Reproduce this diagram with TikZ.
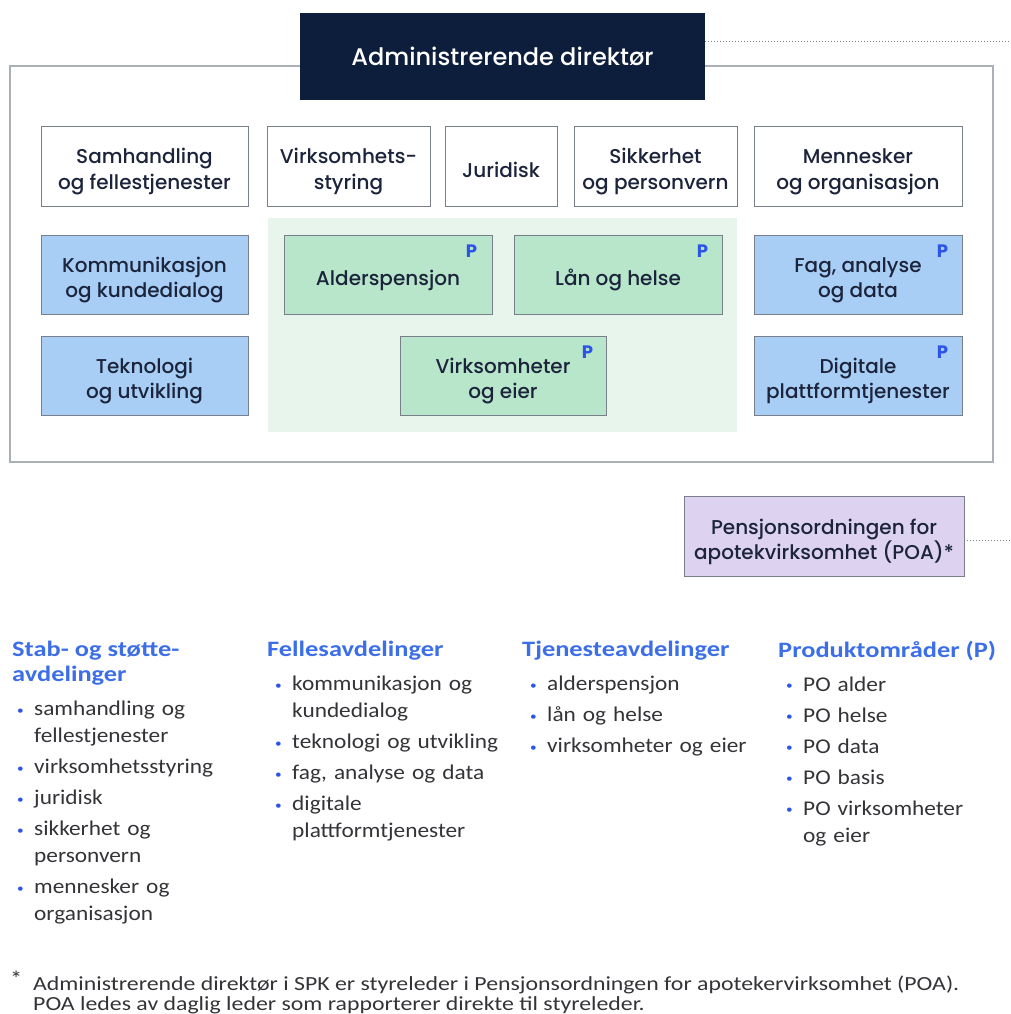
\documentclass[tikz,border=0pt]{standalone}
\usepackage{fontspec}
\usepackage{xcolor}
\newfontfamily\boxfont{Poppins Medium}
\newfontfamily\pfont{Poppins}
\newfontfamily\listfont{Carlito}[FakeStretch=1.11]
\newfontfamily\headfont{Carlito}[FakeStretch=1.2]
\newfontfamily\notefont{Carlito}[FakeStretch=1.19]
\usetikzlibrary{positioning,calc}

\definecolor{dirnavy}{RGB}{13,30,61}
\definecolor{boxtext}{RGB}{28,36,60}
\definecolor{boxline}{RGB}{120,126,138}
\definecolor{framegray}{RGB}{170,175,184}
\definecolor{fagblue}{RGB}{168,206,246}
\definecolor{tjgreen}{RGB}{184,230,202}
\definecolor{tjbg}{RGB}{231,245,237}
\definecolor{poalilac}{RGB}{221,211,240}
\definecolor{pblue}{RGB}{44,84,232}
\definecolor{headblue}{RGB}{60,110,232}
\definecolor{listtext}{RGB}{52,52,56}

\newcommand{\prik}{\makebox[17pt][l]{\raisebox{1.5pt}{\textcolor{pblue}{\fontsize{12}{12}\selectfont\textbullet}}}}
\newcommand{\punkt}{\par\parskip=4pt\hangindent=17pt\hangafter=1\noindent\prik}

\begin{document}
\begin{tikzpicture}[
	x = 1pt, y = -1pt,
	enhet/.style = {draw = boxline, line width = 0.8pt, text = boxtext, align = center, inner sep = 0pt, minimum height = 80, text height = 26pt, text depth = 4pt, font = \boxfont\fontsize{20}{25}\selectfont},
	tolinjer/.style = {text height = 50pt, text depth = 4pt},
	stab/.style = {enhet, fill = white},
	felles/.style = {enhet, fill = fagblue},
	tjeneste/.style = {enhet, fill = tjgreen},
	pmark/.style = {text = pblue, inner sep = 0pt, font = \pfont\bfseries\fontsize{18}{18}\selectfont},
	overskrift/.style = {anchor = north west, inner sep = 0pt, text = headblue, align = left, font = \headfont\bfseries\fontsize{22}{25}\selectfont},
	liste/.style = {inner sep = 0pt, text = listtext, text width = 240, align = left, font = \listfont\fontsize{21}{27}\selectfont},
	prikkelinje/.style = {draw = gray, line width = 1pt, dash pattern = on 1pt off 2pt}
	]
	
	\useasboundingbox (0,0) rectangle (1011,1014);
	
	% ramme og bakgrunn
	\draw[framegray, line width = 1.2pt] (10,66) rectangle (993,462);
	\fill[tjbg] (268,218) rectangle (737,432);
	
	\node[fill = dirnavy, minimum width = 405, minimum height = 87, inner sep = 0pt, text = white, font = \boxfont\fontsize{24}{24}\selectfont] (dir) at (502.5,56.5) {Administrerende direktør};
	
	% stab- og stotteavdelinger
	\node[stab, tolinjer, minimum width = 207] (samh) at (144.5,166) {Samhandling\\og fellestjenester};
	\node[stab, tolinjer, minimum width = 163] (styr) at (348.5,166) {Virksomhets-\\styring};
	\node[stab, minimum width = 112] (jur) at (501,166) {Juridisk};
	\node[stab, tolinjer, minimum width = 163] (sikk) at (655.5,166) {Sikkerhet\\og personvern};
	\node[stab, tolinjer, minimum width = 208] (menn) at (858,166) {Mennesker\\og organisasjon};
	
	% felles- og tjenesteavdelinger
	\node[felles, tolinjer, minimum width = 207, minimum height = 79] (kom) at (144.5,274.5) {Kommunikasjon\\og kundedialog};
	\node[tjeneste, minimum width = 208, minimum height = 79] (alder) at (388,274.5) {Alderspensjon};
	\node[tjeneste, minimum width = 208, minimum height = 79] (laan) at (618,274.5) {Lån og helse};
	\node[felles, tolinjer, minimum width = 208, minimum height = 79] (fag) at (858,274.5) {Fag, analyse\\og data};
	\node[felles, tolinjer, minimum width = 207, minimum height = 79] (tek) at (144.5,375.5) {Teknologi\\og utvikling};
	\node[tjeneste, tolinjer, minimum width = 206, minimum height = 79] (virk) at (503,375.5) {Virksomheter\\og eier};
	\node[felles, tolinjer, minimum width = 208, minimum height = 79] (dig) at (858,375.5) {Digitale\\plattformtjenester};
	
	\node[pmark] (palder) at ($(alder.north east)+(-21,17)$) {P};
	\node[pmark] (plaan) at ($(laan.north east)+(-20,17)$) {P};
	\node[pmark] (pfag) at ($(fag.north east)+(-20,17)$) {P};
	\node[pmark] (pvirk) at ($(virk.north east)+(-19,17)$) {P};
	\node[pmark] (pdig) at ($(dig.north east)+(-20,17)$) {P};
	
	\node[enhet, tolinjer, fill = poalilac, minimum width = 280] (poa) at (824,536) {Pensjonsordningen for\\apotekvirksomhet (POA)*};
	
	\coordinate (dirend) at (1011,42);
	\draw[prikkelinje] (dir.east |- dirend) -- (dirend);
	\coordinate (poaend) at (1011,540);
	\draw[prikkelinje] (poa.east |- poaend) -- (poaend);
	
	% forklaring
	\node[overskrift] (hstab) at (12,641) {Stab- og støtte-\\avdelinger};
	\node[overskrift] (hfelles) at (267,641) {Fellesavdelinger};
	\node[overskrift] (htjen) at (522,641) {Tjenesteavdelinger};
	\node[overskrift] (hprod) at (778,641) {Produktområder (P)};
	
	\node[liste, below right = -1pt and 5pt of hstab.south west] (lstab) {%
		\punkt samhandling og\newline fellestjenester
		\punkt virksomhetsstyring
		\punkt juridisk
		\punkt sikkerhet og\newline personvern
		\punkt mennesker og\newline organisasjon\par};
	\node[liste, below right = -1pt and 8pt of hfelles.south west] (lfelles) {%
		\punkt kommunikasjon og\newline kundedialog
		\punkt teknologi og utvikling
		\punkt fag, analyse og data
		\punkt digitale\newline plattformtjenester\par};
	\node[liste, below right = -1pt and 8pt of htjen.south west] (ltjen) {%
		\punkt alderspensjon
		\punkt lån og helse
		\punkt virksomheter og eier\par};
	\node[liste, below right = -1pt and 8pt of hprod.south west] (lprod) {%
		\punkt PO alder
		\punkt PO helse
		\punkt PO data
		\punkt PO basis
		\punkt PO virksomheter\newline og eier\par};
	
	\node[anchor = north west, inner sep = 0pt, text = listtext, font = \listfont\fontsize{22}{22}\selectfont] (stjerne) at (10,971) {*};
	\node[anchor = north west, inner sep = 0pt, text = listtext, align = left, font = \notefont\fontsize{20}{20}\selectfont] (fotnote) at (33,976) {Administrerende direktør i SPK er styreleder i Pensjonsordningen for apotekervirksomhet (POA).\\POA ledes av daglig leder som rapporterer direkte til styreleder.};

\end{tikzpicture}
\end{document}
